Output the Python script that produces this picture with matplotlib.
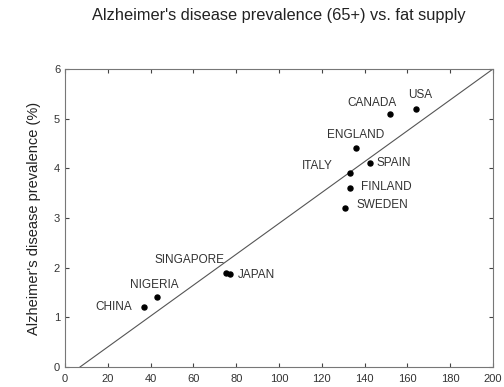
import numpy as np
import matplotlib.pyplot as plt

plt.rcParams['font.family'] = ['Liberation Sans', 'DejaVu Sans']

countries = ["USA", "CANADA", "ENGLAND", "SPAIN", "ITALY", "FINLAND",
             "SWEDEN", "SINGAPORE", "JAPAN", "NIGERIA", "CHINA"]
fat_supply = [164, 152, 136, 142.5, 133, 133, 131, 75, 77, 43, 37]
prevalence = [5.2, 5.1, 4.4, 4.1, 3.9, 3.6, 3.2, 1.9, 1.88, 1.4, 1.2]

# fitted line
fit_x = [7, 200]
fit_y = [0, 6]

# label offsets in points (dx, dy, ha)
offsets = {
    "USA": (3, 10, "center"),
    "CANADA": (-13, 8, "center"),
    "ENGLAND": (0, 10, "center"),
    "SPAIN": (5, 0, "left"),
    "ITALY": (-12, 5, "right"),
    "FINLAND": (8, 1, "left"),
    "SWEDEN": (8, 2, "left"),
    "SINGAPORE": (-1, 9, "right"),
    "JAPAN": (6, -1, "left"),
    "NIGERIA": (-2, 9, "center"),
    "CHINA": (-9, 0, "right"),
}

fig = plt.figure(figsize=(5.04, 3.87), dpi=100)
ax = fig.add_axes([65 / 504, 1 - 367 / 387, 428 / 504, 298 / 387])

ax.plot(fit_x, fit_y, color="#555555", lw=0.8)
ax.plot(fat_supply, prevalence, "o", color="black", ms=3.6)

for name, x, y in zip(countries, fat_supply, prevalence):
    dx, dy, ha = offsets[name]
    ax.annotate(name, (x, y), xytext=(dx, dy), textcoords="offset points",
                ha=ha, va="center", fontsize=8.5, color="#333333")

ax.set_xlim(0, 200)
ax.set_ylim(0, 6)
ax.set_xticks(np.arange(0, 201, 20))
ax.set_yticks(np.arange(0, 7, 1))
ax.tick_params(direction="in", top=True, right=True, length=3,
               labelsize=8, colors="#444444", labelcolor="#333333")
ax.tick_params(axis="x", pad=5)
for s in ax.spines.values():
    s.set_color("#777777")
    s.set_linewidth(0.8)

ax.set_ylabel("Alzheimer's disease prevalence (%)", fontsize=10.5,
              color="#222222", labelpad=9)
ax.set_title("Alzheimer's disease prevalence (65+) vs. fat supply",
             fontsize=11.8, color="#222222", pad=35)

plt.savefig("out.png", dpi=100)
